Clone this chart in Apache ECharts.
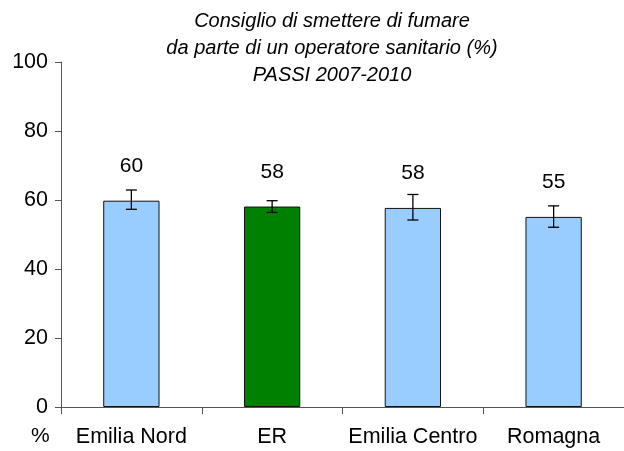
<!DOCTYPE html>
<html>
<head>
<meta charset="utf-8">
<script src="https://cdn.jsdelivr.net/npm/echarts@6/dist/echarts.min.js"></script>
<style>
html,body{margin:0;padding:0;background:#fff;}
#chart{width:624px;height:451px;}
</style>
</head>
<body>
<div id="chart"></div>
<script>
var categories = ['Emilia Nord', 'ER', 'Emilia Centro', 'Romagna'];
var values = [59.8, 58.1, 57.7, 55.1];
var lowerCI = [57.3, 56.4, 54.2, 52.1];
var upperCI = [62.9, 59.8, 61.6, 58.3];
var barColors = ['#99CCFF', '#008000', '#99CCFF', '#99CCFF'];
var yTicks = [0, 20, 40, 60, 80, 100];
var titleLines = ['Consiglio di smettere di fumare', 'da parte di un operatore sanitario (%)', 'PASSI 2007-2010'];

var font = '"Liberation Sans", Arial, sans-serif';
var chart = echarts.init(document.getElementById('chart'), null, {renderer: 'canvas'});

var barData = values.map(function (v, i) {
  return {value: v, itemStyle: {color: barColors[i]}};
});
var errData = categories.map(function (c, i) {
  return [i, lowerCI[i], upperCI[i]];
});

chart.setOption({
  animation: false,
  backgroundColor: '#ffffff',
  title: {
    text: titleLines.join('\n'),
    left: 327,
    top: 3,
    textAlign: 'center',
    textStyle: {
      fontFamily: font,
      fontStyle: 'italic',
      fontWeight: 'normal',
      fontSize: 20,
      lineHeight: 27,
      color: '#000'
    }
  },
  grid: {left: 61, top: 62, right: -9, bottom: 44},
  xAxis: {
    type: 'category',
    data: categories,
    axisLine: {lineStyle: {color: '#555', width: 1}},
    axisTick: {show: true, length: 7, lineStyle: {color: '#555'}},
    axisLabel: {
      fontFamily: font, fontSize: 21.5, color: '#000', margin: 19,
      interval: 0
    }
  },
  yAxis: {
    type: 'value',
    min: yTicks[0],
    max: yTicks[yTicks.length - 1],
    interval: 20,
    axisLine: {show: true, lineStyle: {color: '#555', width: 1}},
    axisTick: {show: true, inside: false, length: 6, lineStyle: {color: '#555'}},
    splitLine: {show: false},
    axisLabel: {fontFamily: font, fontSize: 21.5, color: '#000', margin: 13}
  },
  graphic: [{
    type: 'text',
    left: 31,
    top: 426,
    style: {text: '%', fontFamily: font, fontSize: 21, fill: '#000'}
  }],
  series: [{
    type: 'bar',
    data: barData,
    barWidth: '40%',
    itemStyle: {borderColor: '#111', borderWidth: 1},
    label: {
      show: true,
      position: 'top',
      distance: 24,
      fontFamily: font,
      fontSize: 21,
      color: '#000',
      formatter: function (p) { return Math.round(p.value); }
    },
    z: 2
  }, {
    type: 'custom',
    data: errData,
    z: 3,
    renderItem: function (params, api) {
      var i = api.value(0);
      var lo = api.coord([i, api.value(1)]);
      var hi = api.coord([i, api.value(2)]);
      var hw = 5.5;
      var style = {stroke: '#000', lineWidth: 1.3};
      return {
        type: 'group',
        children: [
          {type: 'line', shape: {x1: lo[0], y1: lo[1], x2: hi[0], y2: hi[1]}, style: style},
          {type: 'line', shape: {x1: lo[0] - hw, y1: lo[1], x2: lo[0] + hw, y2: lo[1]}, style: style},
          {type: 'line', shape: {x1: hi[0] - hw, y1: hi[1], x2: hi[0] + hw, y2: hi[1]}, style: style}
        ]
      };
    }
  }]
});
</script>
</body>
</html>
